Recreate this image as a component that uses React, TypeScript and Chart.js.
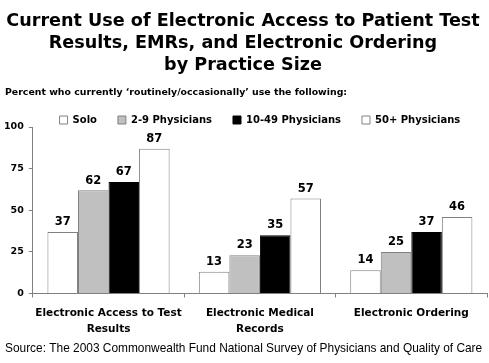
import React, { useEffect, useRef } from "react";
import { Chart, registerables } from "chart.js";

Chart.register(...registerables);

const categories: string[][] = [
  ["Electronic Access to Test", "Results"],
  ["Electronic Medical", "Records"],
  ["Electronic Ordering"],
];
const seriesNames = ["Solo", "2-9 Physicians", "10-49 Physicians", "50+ Physicians"];
const solo = [37, 13, 14];
const physicians2to9 = [62, 23, 25];
const physicians10to49 = [67, 35, 37];
const physicians50plus = [87, 57, 46];
const titleLines = [
  "Current Use of Electronic Access to Patient Test",
  "Results, EMRs, and Electronic Ordering",
  "by Practice Size",
];
const subtitleText = "Percent who currently \u2018routinely/occasionally\u2019 use the following:";
const sourceText = "Source: The 2003 Commonwealth Fund National Survey of Physicians and Quality of Care";

const BOLD = "'DejaVu Sans', 'Liberation Sans', Arial, sans-serif";
const REG = "'Liberation Sans', Arial, sans-serif";

const valueLabels = {
  id: "valueLabels",
  afterDatasetsDraw(chart: any) {
    const ctx = chart.ctx;
    ctx.save();
    ctx.font = `bold 11.5px ${BOLD}`;
    ctx.fillStyle = "#000";
    ctx.textAlign = "center";
    ctx.textBaseline = "bottom";
    chart.data.datasets.forEach((ds: any, i: number) => {
      const meta = chart.getDatasetMeta(i);
      meta.data.forEach((bar: any, j: number) => {
        ctx.fillText(String(ds.data[j]), bar.x, bar.y - 4);
      });
    });
    ctx.restore();
  },
};

const extraText = {
  id: "extraText",
  afterDraw(chart: any) {
    const ctx = chart.ctx;
    ctx.save();
    ctx.fillStyle = "#000";
    ctx.textAlign = "left";
    ctx.textBaseline = "middle";
    ctx.font = `bold 9.4px ${BOLD}`;
    ctx.fillText(subtitleText, 5, 93);
    ctx.font = `11.9px ${REG}`;
    ctx.fillText(sourceText, 5, 349);
    ctx.restore();
  },
};

// Center the legend over the plot area rather than the whole canvas.
const legendShift = {
  id: "legendShift",
  afterLayout(chart: any) {
    const lg = chart.legend;
    if (!lg) return;
    const area = chart.chartArea;
    const shift = (area.left + area.right) / 2 - (lg.left + lg.right) / 2;
    lg.left += shift;
    lg.right += shift;
  },
};

export default function App() {
  const ref = useRef<HTMLCanvasElement>(null);
  useEffect(() => {
    document.body.style.margin = "0";
    const colors = ["#ffffff", "#c0c0c0", "#000000", "#ffffff"];
    const borders = ["#808080", "#808080", "#000000", "#808080"];
    const values = [solo, physicians2to9, physicians10to49, physicians50plus];
    const chart = new Chart(ref.current as HTMLCanvasElement, {
      type: "bar",
      data: {
        labels: categories,
        datasets: seriesNames.map((name, i) => ({
          label: name,
          data: values[i],
          backgroundColor: colors[i],
          borderColor: borders[i],
          borderWidth: 1,
          barPercentage: 1,
          categoryPercentage: 0.807,
        })),
      },
      options: {
        animation: false,
        responsive: false,
        layout: { padding: { left: -1, right: 2, top: 0, bottom: 18 } },
        plugins: {
          title: {
            display: true,
            text: titleLines,
            color: "#000",
            font: { family: BOLD, weight: "bold", size: 17.6, lineHeight: 1.25 },
            padding: { top: 10, bottom: 18 },
          },
          legend: {
            display: true,
            position: "top",
            maxHeight: 33,
            labels: {
              color: "#000",
              boxWidth: 8,
              boxHeight: 8,
              padding: 21,
              font: { family: BOLD, weight: "bold", size: 10 },
            },
          },
          tooltip: { enabled: false },
        },
        scales: {
          x: {
            grid: {
              display: true,
              drawOnChartArea: false,
              offset: true,
              tickLength: 4,
              color: "#808080",
            },
            border: { color: "#808080" },
            ticks: {
              color: "#000",
              font: { family: BOLD, weight: "bold", size: 10.5, lineHeight: 1.5 },
              maxRotation: 0,
              padding: 8,
            },
          },
          y: {
            min: 0,
            max: 100,
            grid: {
              display: true,
              drawOnChartArea: false,
              tickLength: 4,
              color: "#808080",
            },
            border: { color: "#808080" },
            ticks: {
              stepSize: 25,
              color: "#000",
              font: { family: BOLD, weight: "bold", size: 9.5 },
              padding: 5,
            },
          },
        },
      },
      plugins: [valueLabels, extraText, legendShift],
    });
    return () => chart.destroy();
  }, []);
  return <canvas ref={ref} width={489} height={363} style={{ display: "block" }} />;
}
